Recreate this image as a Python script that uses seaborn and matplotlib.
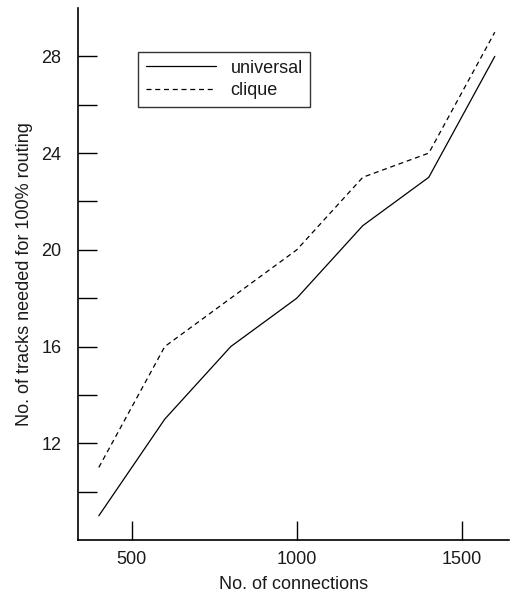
import pandas as pd
import numpy as np
import matplotlib
matplotlib.use("Agg")
import matplotlib.pyplot as plt
import seaborn as sns
from matplotlib.ticker import FixedLocator

# data
connections = [400, 600, 800, 1000, 1200, 1400, 1600]
universal = [9, 13, 16, 18, 21, 23, 28]
clique = [11, 16, 18, 20, 23, 24, 29]

df = pd.DataFrame({
    "connections": connections * 2,
    "tracks": universal + clique,
    "router": ["universal"] * len(connections) + ["clique"] * len(connections),
})

sns.set_style("ticks")
plt.rcParams['font.family'] = ['Liberation Sans', 'DejaVu Sans']
text_col = "#1a1a1a"

fig = plt.figure(figsize=(5.12, 5.94), dpi=100)
ax = fig.add_axes([78/512, 54/594, (509-78)/512, (540-8)/594])

sns.lineplot(data=df[df.router == "universal"], x="connections", y="tracks",
             color="black", linewidth=0.9, label="universal", ax=ax)
sns.lineplot(data=df[df.router == "clique"], x="connections", y="tracks",
             color="black", linewidth=0.9, linestyle=(0, (4, 3)), label="clique", ax=ax)

ax.set_xlim(337, 1643)
ax.set_ylim(8, 30)
ax.set_xticks([500, 1000, 1500])
ax.set_yticks([12, 16, 20, 24, 28])
ax.yaxis.set_minor_locator(FixedLocator([10, 14, 18, 22, 26]))
ax.tick_params(axis="both", which="both", direction="in", length=14, width=1,
               color="black", labelsize=13, labelcolor=text_col, pad=8)
ax.tick_params(axis="y", which="major", pad=12)

sns.despine(ax=ax)
for s in ["left", "bottom"]:
    ax.spines[s].set_linewidth(1.2)
    ax.spines[s].set_color("black")

ax.set_xlabel("No. of connections", fontsize=13, labelpad=6, color=text_col)
ax.set_ylabel("No. of tracks needed for 100% routing", fontsize=13, labelpad=6,
              color=text_col)

leg = ax.legend(loc="upper left", bbox_to_anchor=((138-78)/431, (540-52)/532),
                frameon=True, fancybox=False, edgecolor="black", fontsize=13,
                handlelength=3.9, handletextpad=0.8, borderpad=0.42,
                borderaxespad=0, labelspacing=0.3)
leg.get_frame().set_linewidth(1.0)
for t in leg.get_texts():
    t.set_color(text_col)

fig.savefig("out.png", dpi=100)
